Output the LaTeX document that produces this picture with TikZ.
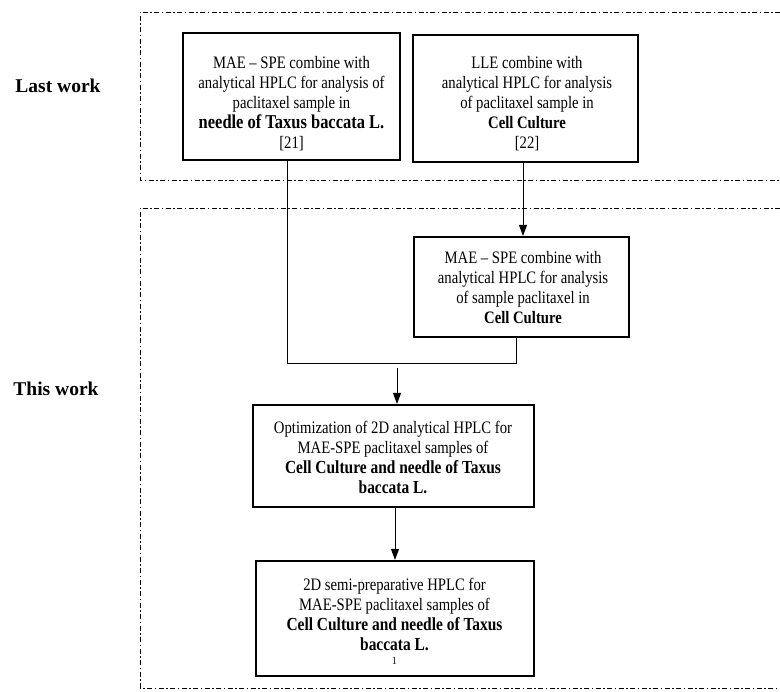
\documentclass[tikz,border=0pt]{standalone}
\usepackage{fontspec}
\setmainfont[FakeStretch=0.84]{Liberation Serif}
\newfontfamily\labelfont{Liberation Serif}
\usetikzlibrary{arrows.meta}
\newcommand{\bigbf}[1]{{\bfseries\fontsize{19.6}{20}\selectfont #1}}
\newcommand{\midbf}[1]{{\bfseries\fontsize{18.4}{22.5}\selectfont #1}}
\begin{document}
\begin{tikzpicture}[x=1pt,y=-1pt,
  region/.style={line width=0.9pt,dash pattern=on 5pt off 2.5pt on 1.5pt off 2.5pt},
  stagebox/.style={draw,line width=2.2pt,inner sep=0pt},
  stagetext/.style={align=center,inner sep=0pt,
    font=\fontsize{17.5}{20}\selectfont},
  conn/.style={line width=1pt},
  arr/.style={conn,-{Triangle[length=11pt,width=8pt]}},
  sidelabel/.style={font=\labelfont\bfseries\fontsize{19.5}{22}\selectfont}]
\useasboundingbox (0,0) rectangle (780,692);
% regions
\draw[region] (780,12) -- (140,12) -- (140,180) -- (780,180);
\draw[region] (780,208) -- (140,208) -- (140,688) -- (780,688);
% side labels
\node[sidelabel] (lw) at (58,86) {Last work};
\node[sidelabel] (tw) at (56,389) {This work};
% boxes
\node[stagebox,minimum width=217pt,minimum height=127pt] (b1) at (291.5,96.5) {};
\node[stagetext] (t1) at (291.5,104)
 {MAE -- SPE combine with\\analytical HPLC for analysis of\\paclitaxel sample in\\
  \bigbf{needle of Taxus baccata L.}\\{}[21]};
\node[stagebox,minimum width=225pt,minimum height=127pt] (b2) at (525.5,98.5) {};
\node[stagetext] (t2) at (527,104)
 {LLE combine with\\analytical HPLC for analysis\\of paclitaxel sample in\\
  {\bfseries Cell Culture}\\{}[22]};
\node[stagebox,minimum width=215pt,minimum height=100pt] (b3) at (521.5,287) {};
\node[stagetext] (t3) at (523,287.5)
 {MAE -- SPE combine with\\analytical HPLC for analysis\\of sample paclitaxel in\\
  {\bfseries Cell Culture}};
\node[stagebox,minimum width=281pt,minimum height=102pt] (b4) at (393.5,456) {};
\node[stagetext] (t4) at (393,457.5)
 {Optimization of 2D analytical HPLC for\\MAE-SPE paclitaxel samples of\\
  \midbf{Cell Culture and needle of Taxus}\\\midbf{baccata L.}};
\node[stagebox,minimum width=278pt,minimum height=115pt] (b5) at (395,618.5) {};
\node[stagetext] (t5) at (394.5,621.5)
 {2D semi-preparative HPLC for\\MAE-SPE paclitaxel samples of\\
  \midbf{Cell Culture and needle of Taxus}\\\midbf{baccata L.}\\[-6pt]
  {\fontsize{11}{11}\selectfont 1}};
% connectors
\coordinate (jy) at (0,364);
\coordinate (m) at (397,368);
\draw[conn] ([xshift=-4.5pt]b1.south) |- (jy -| 516,0) -- (516,0 |- b3.south);
\draw[arr] ([xshift=-2.5pt]b2.south) -- ([xshift=-2.5pt]b2.south |- b3.north);
\draw[arr] (m) -- (m |- b4.north);
\draw[arr] ([xshift=1.5pt]b4.south) -- ([xshift=1.5pt]b4.south |- b5.north);
\end{tikzpicture}
\end{document}
